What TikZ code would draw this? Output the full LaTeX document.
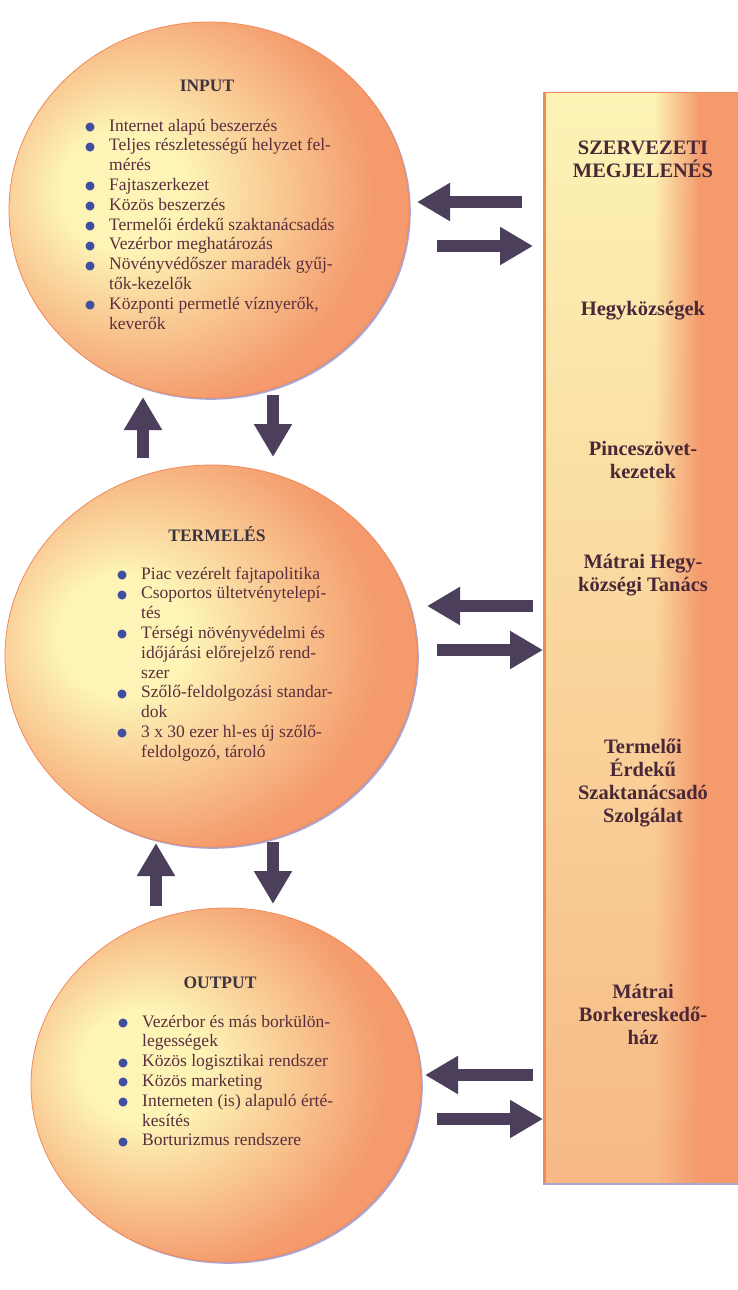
\documentclass[tikz,border=0pt]{standalone}
\usepackage{fontspec}
\setmainfont{Liberation Serif}
\newfontfamily\symf{DejaVu Sans}
\usetikzlibrary{arrows.meta,fadings,shadows,shapes.geometric}
\definecolor{yel}{HTML}{FDF4B6}
\definecolor{ora}{HTML}{F49A6C}
\definecolor{arr}{HTML}{4B3F5B}
\definecolor{txt}{HTML}{5A2E3E}
\definecolor{ttl}{HTML}{3C3440}
\definecolor{bul}{HTML}{3F4E9E}
\definecolor{rim}{HTML}{F28A58}
\definecolor{shad}{HTML}{A9A6D6}
\definecolor{bartxt}{HTML}{4A2838}
\pgfdeclareradialshading{sunny}{\pgfpoint{-12bp}{3bp}}{color(0bp)=(yel); color(8bp)=(yel); color(28bp)=(ora); color(70bp)=(ora)}
\pgfdeclarehorizontalshading{barshade}{100bp}{color(0bp)=(yel); color(53bp)=(yel); color(59bp)=(yel!50!ora); color(65bp)=(ora); color(100bp)=(ora)}
\tikzfading[name=barfade, top color=transparent!100, middle color=transparent!100, bottom color=transparent!35]
\newcommand\bult{{\color{bul}\symf\fontsize{11.5}{11.5}\selectfont\raisebox{0.05em}{●}}}
\newcommand\myb[1]{\noindent\makebox[24pt][l]{\bult}#1\par}
\newcommand\myc[1]{\noindent\hspace*{24pt}#1\par}
\begin{document}
\begin{tikzpicture}[x=1pt,y=-1pt,
  circ/.style={ellipse, inner sep=0pt, shading=sunny, draw=rim, line width=0.8pt,
    drop shadow={shadow xshift=1.8pt, shadow yshift=-1.8pt, fill=shad, opacity=1}},
  ttlf/.style={font=\fontsize{17.5}{19.8}\selectfont\bfseries, text=ttl, inner sep=0pt},
  itemf/.style={font=\fontsize{17.5}{19.8}\selectfont, text=txt, inner sep=0pt, anchor=base west},
  bartext/.style={font=\fontsize{20.5}{23}\selectfont\bfseries, text=bartxt, inner sep=0pt, anchor=base},
  blk/.style={draw=arr, line width=12pt, -{Triangle[width=36pt,length=33pt,fill=arr]}}]
\useasboundingbox (0,0) rectangle (738,1290);
\fill[white] (0,0) rectangle (738,1290);

% right bar
\node[inner sep=0pt, shading=barshade, minimum width=197pt, minimum height=1091pt, anchor=north west] (bar) at (543,92) {};
\fill[ora, path fading=barfade] (bar.north west) rectangle (bar.south east);
\draw[rim, line width=3pt] ([xshift=1.5pt]bar.north west) -- ([xshift=1.5pt]bar.south west);
\draw[rim, line width=1pt] (bar.north west) -- (bar.north east);
\draw[shad, line width=1.5pt] ([yshift=-0.8pt]bar.south west) -- ([yshift=-0.8pt]bar.south east);

% circles
\node[circ, minimum width=400pt, minimum height=376pt] (c1) at (209,210) {};
\node[circ, minimum width=412pt, minimum height=382pt] (c2) at (211,656) {};
\node[circ, minimum width=390pt, minimum height=354pt] (c3) at (226,1085) {};

% circle texts
\node[ttlf, anchor=base] (t1) at (207,91) {INPUT};
\node[itemf] (i1) at (85,131) {\parbox[t]{310pt}{\raggedright
\myb{Internet alapú beszerzés}
\myb{Teljes részletességű helyzet fel-}
\myc{mérés}
\myb{Fajtaszerkezet}
\myb{Közös beszerzés}
\myb{Termelői érdekű szaktanácsadás}
\myb{Vezérbor meghatározás}
\myb{Növényvédőszer maradék gyűj-}
\myc{tők-kezelők}
\myb{Központi permetlé víznyerők,}
\myc{keverők}}};

\node[ttlf, anchor=base] (t2) at (217,541) {TERMELÉS};
\node[itemf] (i2) at (117,579) {\parbox[t]{290pt}{\raggedright
\myb{Piac vezérelt fajtapolitika}
\myb{Csoportos ültetvénytelepí-}
\myc{tés}
\myb{Térségi növényvédelmi és}
\myc{időjárási előrejelző rend-}
\myc{szer}
\myb{Szőlő-feldolgozási standar-}
\myc{dok}
\myb{3 x 30 ezer hl-es új szőlő-}
\myc{feldolgozó, tároló}}};

\node[ttlf, anchor=base] (t3) at (220,988) {OUTPUT};
\node[itemf] (i3) at (118,1027) {\parbox[t]{290pt}{\raggedright
\myb{Vezérbor és más borkülön-}
\myc{legességek}
\myb{Közös logisztikai rendszer}
\myb{Közös marketing}
\myb{Interneten (is) alapuló érté-}
\myc{kesítés}
\myb{Borturizmus rendszere}}};

% bar texts
\node[bartext] (b1) at (643,154) {\parbox[t]{190pt}{\centering SZERVEZETI\\MEGJELENÉS}};
\node[bartext] (b2) at (643,315) {\parbox[t]{190pt}{\centering Hegyközségek}};
\node[bartext] (b3) at (643,455) {\parbox[t]{190pt}{\centering Pinceszövet-\\kezetek}};
\node[bartext] (b4) at (643,568) {\parbox[t]{190pt}{\centering Mátrai Hegy-\\községi Tanács}};
\node[bartext] (b5) at (643,753) {\parbox[t]{190pt}{\centering Termelői\\Érdekű\\Szaktanácsadó\\Szolgálat}};
\node[bartext] (b6) at (643,998) {\parbox[t]{190pt}{\centering Mátrai\\Borkereskedő-\\ház}};

% arrow end points
\coordinate (h1a) at (522,202); \coordinate (h1b) at (417,202);
\coordinate (h1c) at (437,246); \coordinate (h1d) at (533,246);
\coordinate (h2a) at (533,606); \coordinate (h2b) at (427,606);
\coordinate (h2c) at (437,650); \coordinate (h2d) at (543,650);
\coordinate (h3a) at (533,1075); \coordinate (h3b) at (425,1075);
\coordinate (h3c) at (437,1119); \coordinate (h3d) at (543,1119);
\coordinate (v1a) at (143,458); \coordinate (v1b) at (143,397);
\coordinate (v1c) at (273,395); \coordinate (v1d) at (273,457);
\coordinate (v2a) at (156,906); \coordinate (v2b) at (156,843);
\coordinate (v2c) at (273,842); \coordinate (v2d) at (273,904);

\draw[blk] (h1a) -- (h1b);
\draw[blk] (h1c) -- (h1d);
\draw[blk] (h2a) -- (h2b);
\draw[blk] (h2c) -- (h2d);
\draw[blk] (h3a) -- (h3b);
\draw[blk] (h3c) -- (h3d);
\draw[blk] (v1a) -- (v1b);
\draw[blk] (v1c) -- (v1d);
\draw[blk] (v2a) -- (v2b);
\draw[blk] (v2c) -- (v2d);
\end{tikzpicture}
\end{document}
